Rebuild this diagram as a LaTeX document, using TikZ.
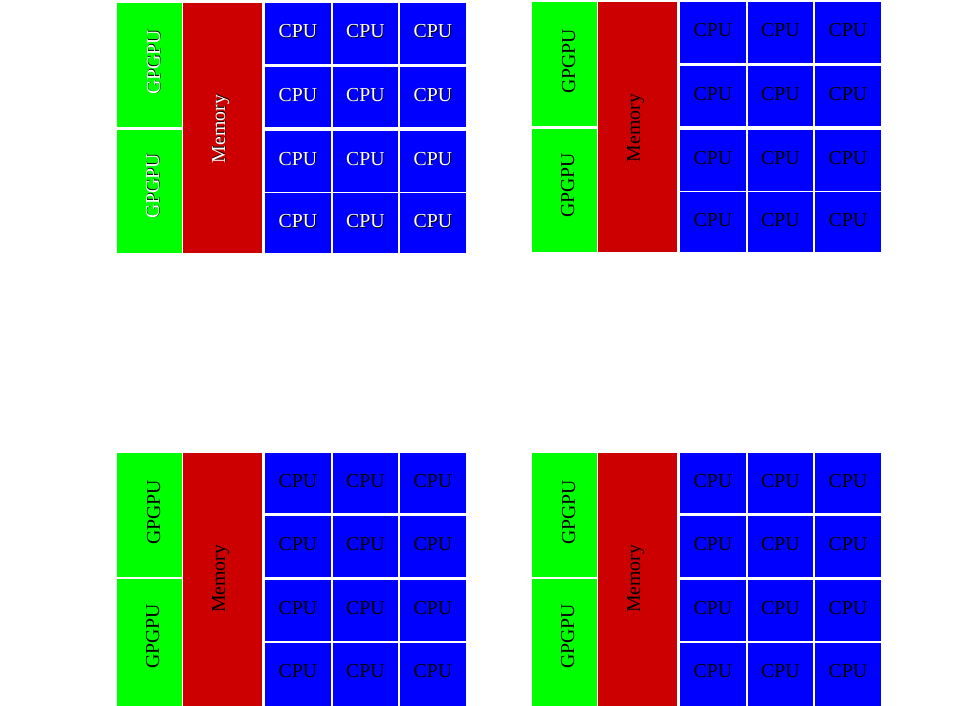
\documentclass[tikz,border=0pt]{standalone}
\usepackage{fontspec}
\setmainfont{Liberation Serif}
\definecolor{gpgreen}{RGB}{0,255,0}
\definecolor{memred}{RGB}{204,0,0}
\definecolor{cpublue}{RGB}{0,0,255}
\newcommand\mytxt[2]{\ifnum#1=1 \makebox[0pt][l]{\hspace{0.9pt}\raisebox{-0.6pt}{\color{black}#2}}{\color{white}#2}\else #2\fi}
\newcommand\cpublock[5]{%
\begin{scope}[shift={(#2,#3)}]
 \fill[gpgreen] (0,0) rectangle (65,124);
 \fill[gpgreen] (0,126.7) rectangle (65,#4);
 \fill[memred] (66,0) rectangle (145,#4);
 \foreach \c/\xa/\xb in {1/148/213.7,2/216/280.7,3/283/349} {
   \foreach \r/\ya/\yb in {1/0/60.7,2/63.7/124,3/127.7/188.7,4/190.3/#4} {
     \fill[cpublue] (\xa,\ya) rectangle (\xb,\yb);
     \node[lbl, anchor=base] (#1cpu\r\c) at ({(\xa+\xb)/2},\ya+34.5) {\mytxt{#5}{CPU}};
   }
 }
 \node[lbl, rotate=90, anchor=base] (#1gpuA) at (43,59.5) {\mytxt{#5}{GPGPU}};
 \node[lbl, rotate=90, anchor=base] (#1gpuB) at (42,183.5) {\mytxt{#5}{GPGPU}};
 \node[lbl, rotate=90, anchor=base] (#1mem) at (108,126) {\mytxt{#5}{Memory}};
\end{scope}}
\begin{document}
\begin{tikzpicture}[x=1pt,y=-1pt,
  lbl/.style={inner sep=0pt, font=\fontsize{19.8}{20}\selectfont}]
\useasboundingbox (0,0) rectangle (978,706);
\cpublock{a}{117}{3}{250.3}{1}
\cpublock{b}{532}{2}{250}{0}
\cpublock{c}{117}{452.7}{253.3}{0}
\cpublock{d}{532}{452.7}{253.3}{0}
\end{tikzpicture}
\end{document}
